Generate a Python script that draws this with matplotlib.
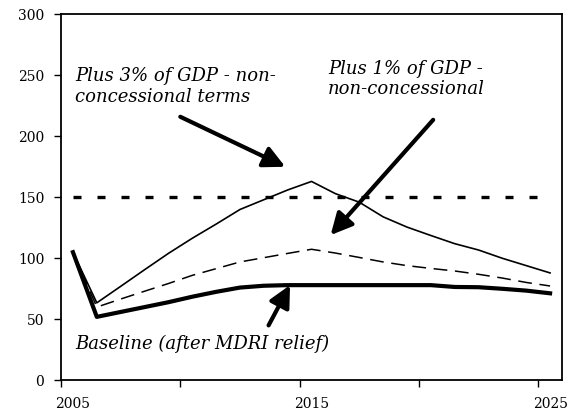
import matplotlib.pyplot as plt

# dados
anos = list(range(2005, 2026))
baseline = [105, 52, 56, 60, 64, 68.5, 72.5, 76, 77.5, 78, 78, 78, 78, 78, 78, 78, 76.5, 76.3, 75, 73.5, 71.3]
mais_1 = [105, 60, 66.6, 73, 79.3, 86, 91.5, 97, 100.5, 104, 107.4, 104.3, 100.7, 97, 94, 91.7, 89.6, 86.9, 83.8, 80.2, 77.3]
mais_3 = [105, 63.5, 77, 90.6, 104, 116.4, 128, 140, 148, 156, 163, 153, 146, 134, 125.6, 118.7, 112, 106.8, 100, 94, 88]
limite_anos = [2005, 2024.5]
limite = [150, 150]

plt.rcParams['font.family'] = 'DejaVu Serif'

fig = plt.figure(figsize=(5.85, 4.18), dpi=100)
ax = fig.add_axes([0.1043, 0.0902, 0.8564, 0.8756])

ax.plot(limite_anos, limite, color='black', lw=2.4, dashes=(2.4, 4.8), dash_capstyle='butt')
ax.plot(anos, mais_3, color='black', lw=1.2)
ax.plot(anos, mais_1, color='black', lw=1.1, dashes=(9, 5))
ax.plot(anos, baseline, color='black', lw=3)

ax.set_xlim(2004.5, 2025.5)
ax.set_ylim(0, 300)
ax.set_yticks(range(0, 301, 50))
ax.set_xticks([2005, 2015, 2025])
ax.set_xticks([2004.5, 2009.5, 2014.5, 2019.5, 2024.5], minor=True)
ax.tick_params(axis='x', which='major', length=0, labelsize=10, pad=12)
ax.tick_params(axis='x', which='minor', length=5, width=1)
ax.tick_params(axis='y', length=5, width=1, labelsize=10, pad=7)
for s in ax.spines.values():
    s.set_linewidth(1.3)

seta = dict(arrowstyle='-|>,head_length=1.3,head_width=0.65', color='black', lw=3,
            mutation_scale=10, shrinkA=0, shrinkB=0)
ax.annotate('', xy=(2013.9, 175), xytext=(2009.5, 216), arrowprops=seta)
ax.annotate('', xy=(2015.8, 119), xytext=(2020.1, 213.5), arrowprops=seta)
ax.annotate('', xy=(2014.1, 78), xytext=(2013.2, 45), arrowprops=seta)

ax.text(2005.1, 241, 'Plus 3% of GDP - non-\nconcessional terms', style='italic',
        fontsize=13, va='center', ha='left', linespacing=1.2)
ax.text(2015.7, 247, 'Plus 1% of GDP -\nnon-concessional', style='italic',
        fontsize=13, va='center', ha='left', linespacing=1.2)
ax.text(2005.1, 30, 'Baseline (after MDRI relief)', style='italic',
        fontsize=13, va='center', ha='left')

fig.savefig('out.png', dpi=100)
